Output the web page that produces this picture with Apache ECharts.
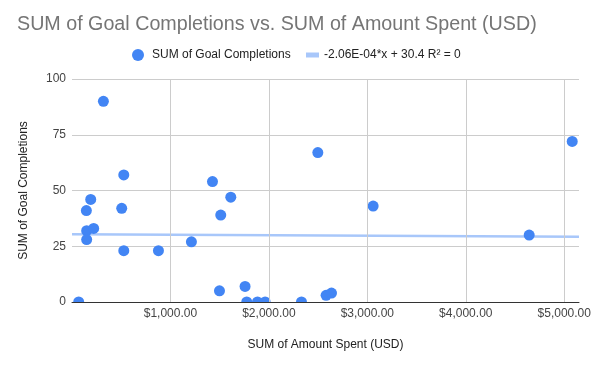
<!DOCTYPE html>
<html>
<head>
<meta charset="utf-8">
<script src="https://cdn.jsdelivr.net/npm/echarts@6/dist/echarts.min.js"></script>
<style>
html,body{margin:0;padding:0;background:#fff;}
#chart{width:596px;height:367px;}
</style>
</head>
<body>
<div id="chart"></div>
<script>
// Data
const amountSpent = [68, 319, 526, 146, 190, 505, 149, 220, 149, 526, 878, 1213, 1427, 1613, 1511, 2497, 3059, 1498, 1758, 1775, 1884, 1962, 2331, 2581, 2636, 5081, 4644];
const goalCompletions = [0, 90, 57, 41, 46, 42, 32, 33, 28, 23, 23, 27, 54, 47, 39, 67, 43, 5, 7, 0, 0, 0, 0, 3, 4, 72, 30];
const trendX = [0, 5150];
const trendY = [30.4, 29.3];
const xTicks = [1000, 2000, 3000, 4000, 5000];
const yTicks = [0, 25, 50, 75, 100];
const seriesName = 'SUM of Goal Completions';
const trendName = '-2.06E-04*x + 30.4 R\u00B2 = 0';

const scatterData = amountSpent.map((v, i) => [v, goalCompletions[i]]);
const trendData = trendX.map((v, i) => [v, trendY[i]]);

const chart = echarts.init(document.getElementById('chart'), null, {renderer: 'canvas'});
const fontFamily = 'Liberation Sans, Arial, sans-serif';
const W = 596, H = 367;
const grid = {left: 72, right: 17, top: 79, bottom: 65};
chart.setOption({
  animation: false,
  title: {
    text: 'SUM of Goal Completions vs. SUM of Amount Spent (USD)',
    left: 12, top: 10,
    textStyle: {fontFamily, fontSize: 19.7, fontWeight: 'normal', color: '#757575'}
  },
  legend: [{
    data: [{name: seriesName, icon: 'circle'}],
    left: 132, top: 49, padding: 0,
    itemWidth: 12, itemHeight: 12, itemGap: 8,
    textStyle: {fontFamily, fontSize: 12, color: '#222', padding: [0, 0, 0, 3]}
  }, {
    data: [{name: trendName, icon: 'rect'}],
    left: 306, top: 49, padding: 0,
    itemWidth: 13, itemHeight: 5,
    textStyle: {fontFamily, fontSize: 12, color: '#222'}
  }],
  grid: Object.assign({containLabel: false}, grid),
  graphic: [{
    type: 'rect', z: 5, silent: true,
    shape: {x: grid.left, y: H - grid.bottom + 0.5, width: W - grid.left - grid.right + 12, height: 20},
    style: {fill: '#fff'}
  }],
  xAxis: {
    type: 'value', min: 0, max: 5150, interval: 1000, z: 10,
    name: 'SUM of Amount Spent (USD)', nameLocation: 'middle', nameGap: 37,
    nameTextStyle: {fontFamily, fontSize: 12, color: '#222'},
    axisLine: {show: true, lineStyle: {color: '#333', width: 1}},
    axisTick: {show: false},
    axisLabel: {
      fontFamily, fontSize: 12, color: '#444', margin: 6,
      showMinLabel: false, showMaxLabel: false,
      formatter: v => xTicks.includes(v) ? '$' + v.toLocaleString('en-US', {minimumFractionDigits: 2, maximumFractionDigits: 2}) : ''
    },
    splitLine: {show: true, showMinLine: false, showMaxLine: false, lineStyle: {color: '#ccc'}}
  },
  yAxis: {
    type: 'value', min: yTicks[0], max: yTicks[yTicks.length - 1], interval: 25,
    name: 'SUM of Goal Completions', nameLocation: 'middle', nameGap: 42,
    nameTextStyle: {fontFamily, fontSize: 12, color: '#222'},
    axisLine: {show: false}, axisTick: {show: false},
    axisLabel: {fontFamily, fontSize: 12, color: '#444', margin: 6},
    splitLine: {lineStyle: {color: '#ccc'}}
  },
  series: [{
    name: trendName, type: 'line', data: trendData,
    showSymbol: false, symbol: 'none',
    lineStyle: {color: '#a8c7fa', width: 2.5},
    itemStyle: {color: '#a8c7fa'},
    z: 1
  }, {
    name: seriesName, type: 'scatter', data: scatterData,
    symbolSize: 11, clip: true,
    itemStyle: {color: '#4285f4', opacity: 1},
    z: 2
  }]
});
</script>
</body>
</html>
